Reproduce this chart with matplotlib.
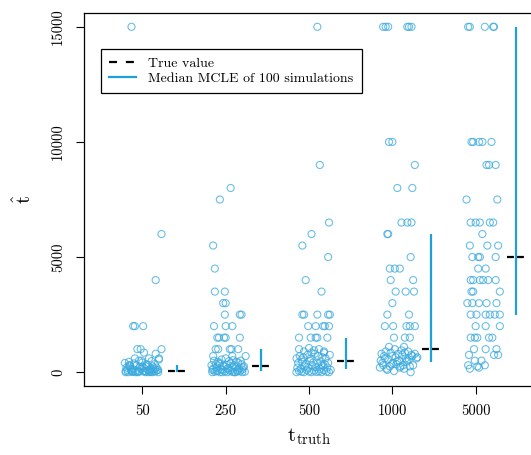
import matplotlib
matplotlib.use("Agg")
import matplotlib.pyplot as plt
from matplotlib.lines import Line2D

plt.rcParams["font.family"] = ["cmr10", "DejaVu Serif"]
plt.rcParams["mathtext.fontset"] = "cm"
plt.rcParams["axes.formatter.use_mathtext"] = True

categories = ["50", "250", "500", "1000", "5000"]
true_values = [50, 250, 500, 1000, 5000]
mcle_low = [0, 50, 150, 450, 2500]
mcle_high = [300, 1000, 1500, 6000, 15000]

# jitter (fraction of category spacing) and estimate for each simulation
jit_50 = [-0.13, 0.23, 0.16, -0.11, -0.09, 0.01, -0.06, -0.02, 0.23, 0.02, 0.16, 0.08, 0.20,
          -0.20, -0.17, -0.14, -0.11, -0.08, -0.05, -0.02, 0.01, 0.04, 0.07, 0.10, 0.13, 0.16, 0.19,
          -0.19, -0.15, -0.12, -0.07, -0.03, 0.02, 0.05, 0.09, 0.12, 0.17,
          -0.21, -0.16, -0.10, -0.04, 0.00, 0.06, 0.11, 0.15, 0.20,
          -0.18, -0.13, -0.06, 0.03, 0.08, 0.14, 0.18, -0.09, -0.01, 0.10, -0.15, 0.04,
          -0.20, -0.12, -0.04, 0.05, 0.12, 0.19, -0.16, -0.08, 0.00, 0.09, 0.15]
val_50 = [15000, 6000, 4000, 2000, 2000, 2000, 1000, 1000, 1000, 850, 800, 600, 600,
          50, 0, 100, 20, 60, 0, 150, 30, 0, 80, 10, 120, 40, 0,
          200, 250, 150, 300, 220, 180, 350, 100, 260, 200,
          400, 450, 380, 500, 420, 300, 480, 350, 550,
          100, 50, 20, 60, 0, 30, 90, 600, 500, 150, 300, 250,
          0, 10, 40, 20, 0, 100, 300, 0, 250, 50, 150]

jit_250 = [0.06, -0.07, -0.15, -0.13, -0.13, -0.01, -0.03, 0.00, -0.01, 0.17, 0.19,
           -0.14, 0.00, 0.08, -0.10, -0.08, -0.02, 0.00, 0.17, -0.12, -0.09, 0.05, 0.07, 0.15,
           0.24, -0.15, 0.08,
           -0.16, -0.13, -0.10, -0.07, -0.04, -0.01, 0.02, 0.05, 0.08, 0.11, 0.14, 0.17, 0.20, 0.23,
           -0.15, -0.11, -0.06, -0.02, 0.03, 0.07, 0.12, 0.16, 0.21,
           -0.17, -0.12, -0.08, -0.03, 0.01, 0.06, 0.10, 0.15, 0.19, 0.22,
           -0.14, -0.09, -0.05, 0.00, 0.04, 0.09, 0.13, 0.18,
           -0.16, -0.11, -0.04, 0.02, 0.08, 0.14, 0.20, -0.07, 0.11]
val_250 = [8000, 7500, 5500, 4500, 3500, 3500, 3000, 3000, 2500, 2500, 2500,
           2000, 2000, 2000, 1500, 1500, 1500, 1500, 1500, 1000, 1000, 1000, 1000, 1000,
           700, 700, 700,
           0, 20, 50, 0, 100, 30, 0, 60, 10, 0, 80, 40, 0, 20,
           150, 200, 120, 250, 180, 100, 220, 150, 200,
           300, 350, 400, 280, 320, 380, 300, 420, 350, 250,
           500, 450, 550, 600, 480, 520, 450, 500,
           100, 60, 0, 150, 200, 30, 120, 350, 0]

jit_500 = [0.10, 0.13, 0.24, 0.03, -0.08, 0.23, -0.04, 0.15,
           -0.08, -0.06, 0.10, 0.23, 0.25, -0.01, 0.08, 0.17, 0.19, 0.24,
           -0.12, 0.02, 0.08, 0.10, 0.22, 0.18,
           -0.15, -0.12, -0.09, -0.06, -0.03, 0.00, 0.03, 0.06, 0.09, 0.12, 0.15, 0.18, 0.21, 0.24,
           -0.14, -0.10, -0.05, -0.01, 0.04, 0.08, 0.13, 0.17, 0.22, 0.26,
           -0.13, -0.08, -0.04, 0.01, 0.05, 0.10, 0.14, 0.19, 0.23,
           -0.15, -0.11, -0.07, -0.02, 0.02, 0.07, 0.11, 0.16, 0.20, 0.25,
           -0.12, -0.06, 0.00, 0.06, 0.12, 0.18, -0.09, 0.03, 0.15]
val_500 = [15000, 9000, 6500, 6000, 5500, 5000, 4000, 3500,
           2500, 2500, 2500, 2500, 2500, 2000, 2000, 2000, 2000, 2000,
           1500, 1500, 1500, 1500, 1500, 900,
           0, 50, 20, 0, 100, 30, 0, 60, 10, 40, 0, 80, 20, 0,
           200, 150, 250, 180, 300, 220, 150, 280, 200, 100,
           400, 450, 350, 500, 420, 380, 480, 350, 400,
           600, 700, 650, 750, 600, 800, 700, 650, 600, 750,
           1000, 900, 1050, 950, 1000, 850, 550, 850, 300]

jit_1000 = [-0.11, -0.08, -0.05, 0.18, 0.20, 0.23, -0.04, 0.00, 0.27, 0.06, 0.24,
            0.11, 0.18, 0.23, -0.06, -0.05, 0.22, -0.03, 0.03, 0.09, -0.02, 0.25,
            0.04, 0.16, 0.26, 0.00, -0.06, 0.20, -0.09, 0.01, 0.17, 0.21, 0.27,
            0.02, 0.15, 0.21, -0.04, 0.14,
            -0.15, -0.11, -0.07, -0.03, 0.01, 0.05, 0.09, 0.13, 0.17, 0.21, 0.25, 0.29,
            -0.14, -0.09, -0.05, 0.00, 0.04, 0.08, 0.12, 0.16, 0.20, 0.24,
            -0.13, -0.08, -0.02, 0.03, 0.07, 0.11, 0.15, 0.19, 0.23, 0.27,
            -0.12, -0.06, -0.01, 0.06, 0.10, 0.14, 0.18, 0.22, 0.30, -0.10, 0.02]
val_1000 = [15000, 15000, 15000, 15000, 15000, 15000, 10000, 10000, 9000, 8000, 8000,
            6500, 6500, 6500, 6000, 6000, 5000, 4500, 4500, 4500, 4000, 4000,
            3500, 3500, 3500, 3000, 2500, 2500, 2000, 2000, 2000, 2000, 2000,
            1500, 1500, 1500, 1100, 1100,
            200, 300, 150, 250, 400, 350, 200, 300, 450, 250, 300, 600,
            500, 600, 550, 700, 650, 500, 750, 600, 550, 700,
            800, 900, 850, 1000, 800, 950, 850, 900, 750, 800,
            400, 100, 350, 450, 250, 150, 500, 0, 650, 700, 50]

jit_5000 = [-0.09, -0.07, 0.11, 0.21, 0.22,
            -0.05, -0.03, 0.04, 0.08, 0.19,
            0.13, 0.16, 0.24, -0.11, 0.26,
            -0.06, 0.00, 0.05, 0.17, 0.21, 0.08,
            -0.07, 0.14, 0.27, -0.04, 0.03, 0.05, 0.24,
            0.03, 0.12, -0.06, -0.03, 0.05, 0.09, 0.15, 0.24,
            -0.05, -0.03, 0.29, -0.10, -0.04, 0.04, 0.13, 0.25,
            -0.06, 0.01, 0.12, 0.17, 0.23, 0.29, 0.00, 0.12, 0.29,
            -0.06, -0.01, 0.02, 0.16, 0.20, -0.02, 0.12, 0.25,
            -0.08, 0.22, 0.27, -0.01, 0.07, -0.09, 0.11, 0.02, -0.07, 0.04]
val_5000 = [15000, 15000, 15000, 15000, 15000,
            10000, 10000, 10000, 10000, 10000,
            9000, 9000, 9000, 7500, 7500,
            6500, 6500, 6500, 6500, 6500, 6000,
            5500, 5500, 5500, 5000, 5000, 5000, 5000,
            4500, 4500, 4000, 4000, 4000, 4000, 4000, 4000,
            3500, 3500, 3500, 3000, 3000, 3000, 3000, 3000,
            2500, 2500, 2500, 2500, 2500, 2500, 2000, 2000, 2000,
            1500, 1500, 1500, 1500, 1500, 1000, 1000, 1000,
            750, 750, 750, 500, 500, 300, 300, 250, 150, 200]

jitters = [jit_50, jit_250, jit_500, jit_1000, jit_5000]
estimates = [val_50, val_250, val_500, val_1000, val_5000]
line_shift = [0.41, 0.42, 0.44, 0.46, 0.48]

pt_color = "#3aa9de"
line_color = "#1f9fd9"

fig = plt.figure(figsize=(5.31, 4.55), dpi=100)
ax = fig.add_axes([84 / 531, 69 / 455, 450 / 531, 373 / 455])

for i, (jit, vals) in enumerate(zip(jitters, estimates)):
    pos = i + 1
    ax.scatter([pos + j for j in jit], vals, s=26, facecolors="none",
               edgecolors=pt_color, linewidths=0.8, alpha=0.75, zorder=2)
    xl = pos + line_shift[i]
    ax.plot([xl, xl], [mcle_low[i], mcle_high[i]], color=line_color, lw=1.6,
            solid_capstyle="butt", zorder=3)
    ax.plot([xl - 0.1, xl + 0.1], [true_values[i]] * 2, color="black", lw=1.6,
            dashes=(3.1, 1.4), dash_capstyle="butt", zorder=4)

ax.set_xlim(0.3, 5.7)
ax.set_ylim(-600, 15600)
ax.set_xticks(range(1, 6))
ax.set_xticklabels(categories)
ax.set_yticks([0, 5000, 10000, 15000])
ax.set_yticklabels(["0", "5000", "10000", "15000"], rotation=90, va="center")
ax.tick_params(axis="both", labelsize=10.5, length=5.5, width=0.8, pad=8)
for sp in ax.spines.values():
    sp.set_linewidth(0.9)

ax.set_xlabel(r"$\mathrm{t}_{\mathrm{truth}}$", fontsize=15, labelpad=6)
ax.set_ylabel(r"$\hat{\mathrm{t}}$", fontsize=15, labelpad=12)

handles = [Line2D([], [], color="black", lw=1.6, dashes=(3.6, 4.0), dash_capstyle="butt"),
           Line2D([], [], color=line_color, lw=1.6)]
leg = ax.legend(handles, ["True value", "Median MCLE of 100 simulations"],
                loc="upper left", bbox_to_anchor=(0.038, 0.903), borderaxespad=0,
                fontsize=10, fancybox=False, edgecolor="black", framealpha=1,
                handlelength=1.9, handletextpad=0.9, labelspacing=0.15, borderpad=0.6)
leg.get_frame().set_linewidth(0.9)

fig.savefig("out.png", dpi=100)
